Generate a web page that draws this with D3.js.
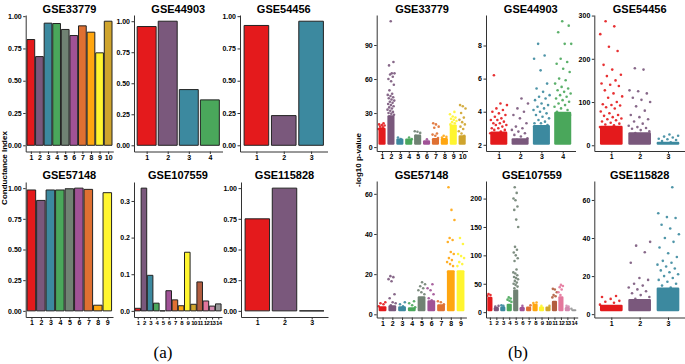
<!DOCTYPE html>
<html>
<head>
<meta charset="utf-8">
<script src="https://cdn.jsdelivr.net/npm/d3@7"></script>
<style>
body { margin: 0; background: #fff; }
svg text { font-family: "Liberation Sans", Arial, sans-serif; }
</style>
</head>
<body>
<svg id="fig" width="685" height="364"></svg>
<script>
/**
 * Data.
 */
var datasets = ["GSE33779", "GSE44903", "GSE54456", "GSE57148", "GSE107559", "GSE115828"];

// (a) conductance index per cluster
var ci33779 = [0.819, 0.687, 0.946, 0.943, 0.897, 0.850, 0.925, 0.876, 0.716, 0.961];
var ci44903 = [0.957, 1.0, 0.449, 0.366];
var ci54456 = [0.928, 0.230, 0.961];
var ci57148 = [0.985, 0.90, 0.985, 0.985, 0.995, 1.0, 0.99, 0.046, 0.963];
var ci107559 = [0.007, 0.335, 0.097, 0.021, 0, 0.055, 0.030, 0.014, 0.160, 0.018, 0.079, 0.027, 0.013, 0.019];
var ci115828 = [0.75, 1.0, 0];

var ciTicks = [0, 0.25, 0.5, 0.75, 1];
var ciTicksSmall = [0, 0.1, 0.2, 0.3];

// (b) -log10 p-value: lowest value, top of the dense band per cluster, scattered points per cluster
var floor33779 = 2;
var dense33779 = [17, 28, 7.5, 7.5, 11, 6, 8, 8, 20, 10.5];
var pts33779 = [
	[16, 17.5, 18, 19, 19.5, 20, 21],
	[27, 28.5, 29.5, 30, 31, 32, 33, 34, 35, 36, 37, 38, 39, 40, 41, 42, 43, 44, 45, 46, 47, 50, 55, 58, 60, 62, 64, 65, 65, 72, 75, 111],
	[7, 8.5],
	[7, 8.5],
	[10, 12.5, 13.5, 14],
	[6.8],
	[8, 10, 11, 12, 17, 18, 20, 21],
	[8.5, 9, 10],
	[18, 20, 21, 22, 23, 24, 25, 26, 27, 29, 31],
	[10, 12, 14, 16, 18, 20, 22, 24, 26, 30, 34, 36, 37]
];

var floor44903 = 2;
var dense44903 = [2.8, 2.4, 3.2, 4.0];
var pts44903 = [
	[2.7, 2.8, 2.9, 2.9, 3.0, 3.0, 3.1, 3.2, 3.2, 3.3, 3.3, 3.4, 3.5, 3.5, 3.6, 3.7, 3.8, 3.9, 4.0, 4.1, 4.2, 4.4, 4.5, 6.2],
	[2.3, 2.4, 2.5, 2.6, 2.7, 2.8, 2.9, 3.0, 3.1, 3.3, 3.6, 3.8, 4.0, 4.2, 4.5, 4.8],
	[3.0, 3.1, 3.2, 3.3, 3.3, 3.4, 3.5, 3.6, 3.7, 3.8, 3.9, 4.0, 4.1, 4.2, 4.3, 4.4, 4.5, 4.7, 4.8, 4.9, 5.0, 5.2, 5.4, 5.7, 6.5, 7.2, 7.4, 8.1],
	[3.8, 3.9, 4.0, 4.1, 4.2, 4.3, 4.4, 4.5, 4.6, 4.7, 4.8, 4.9, 5.0, 5.1, 5.2, 5.3, 5.4, 5.5, 5.7, 5.9, 6.0, 6.4, 6.6, 6.9, 7.0, 7.2, 8.1, 8.1, 8.8, 9.2, 9.47]
];

var floor54456 = 1;
var dense54456 = [45, 30, 8];
var pts54456 = [
	[42, 46, 48, 50, 52, 55, 58, 60, 62, 65, 68, 70, 74, 78, 85, 88, 92, 93, 95, 100, 110, 113, 120, 127, 137, 140, 143, 150, 160, 163, 175, 186, 218, 228, 257, 275, 287],
	[28, 32, 35, 38, 40, 42, 45, 50, 55, 60, 65, 70, 80, 90, 100, 105, 110, 120, 125, 127, 175, 178],
	[7, 10, 12, 14, 15, 18, 20, 22, 25]
];

var floor57148 = 1.5;
var dense57148 = [4, 4.5, 4, 3.5, 9, 7, 5, 22, 22];
var pts57148 = [
	[4, 5, 5.5, 6],
	[4.5, 5.5, 6, 8, 10, 16.5, 17.5, 18.5, 19],
	[4, 5, 6],
	[3.5, 4.5, 5.5, 6.5],
	[8, 10, 11, 12, 13, 14, 15, 16],
	[7, 8, 10, 12, 13, 15],
	[5, 6, 6.5],
	[21, 24, 25, 26, 27, 28, 30, 31, 36, 37, 38, 47, 52, 63.3],
	[21, 24, 25, 26, 28, 29, 30, 35, 38]
];

var floor107559 = 1.5;
var dense107559 = [27, 9, 10, 15, 40, 9, 10, 15, 10, 10, 20, 28, 9, 5];
var pts107559 = [
	[29, 30, 32],
	[10, 11],
	[11, 12],
	[18, 20, 22, 24, 26],
	[42, 45, 48, 50, 52, 55, 58, 60, 62, 65, 68, 70, 75, 90, 95, 100, 105, 110, 115, 150, 163, 180, 186, 197, 200, 210, 220],
	[11],
	[12],
	[16, 17],
	[11],
	[11],
	[26, 28, 30, 35, 40, 41],
	[30, 35, 40, 44, 46, 48],
	[10, 11],
	[6]
];

var floor115828 = 1.5;
var dense115828 = [5, 8, 14];
var pts115828 = [
	[5, 6, 6.5, 7, 8, 9, 9.5],
	[8, 9, 10, 11, 12, 13, 14, 15, 16, 18, 19, 27, 32.5, 36, 38],
	[14, 15, 16, 17, 18, 19, 20, 21, 22, 23, 24, 25, 26, 27, 28, 30, 32, 35, 38, 40, 42, 45, 47, 50.5, 51, 53, 66.7]
];

var pTicks33779 = [0, 30, 60, 90];
var pTicks44903 = [2, 4, 6, 8];
var pTicks54456 = [0, 100, 200, 300];
var pTicks57148 = [0, 20, 40, 60];
var pTicks107559 = [0, 50, 100, 150, 200];
var pTicks115828 = [0, 20, 40, 60];

// colorRampPalette(brewer.pal(9, "Set1"))(14)
var set1 = ["#E41A1C", "#377EB8", "#4DAF4A", "#984EA3", "#FF7F00", "#FFFF33", "#A65628", "#F781BF", "#999999"];
var ramp = d3.piecewise(d3.interpolateRgb, set1);
function clusterColor(i) {
	return ramp(i / 13);
}

var svg = d3.select("#fig");

var barPanels = [
	{ values: ci33779, ticks: ciTicks, fmt: d3.format(".2f"), x0: 25.7, x1: 113.3, y0: 15, y1: 151.5, ty: 12.5 },
	{ values: ci44903, ticks: ciTicks, fmt: d3.format(".2f"), x0: 134, x1: 222.5, y0: 15, y1: 151.5, ty: 12.5 },
	{ values: ci54456, ticks: ciTicks, fmt: d3.format(".2f"), x0: 240, x1: 327.5, y0: 15, y1: 151.5, ty: 12.5 },
	{ values: ci57148, ticks: ciTicks, fmt: d3.format(".2f"), x0: 25.7, x1: 113, y0: 182, y1: 317, ty: 178.5 },
	{ values: ci107559, ticks: ciTicksSmall, fmt: d3.format(".1f"), x0: 134, x1: 222, y0: 182, y1: 317, ty: 178.5 },
	{ values: ci115828, ticks: ciTicks, fmt: d3.format(".2f"), x0: 241, x1: 328, y0: 182, y1: 317, ty: 178.5 }
];

var scatterPanels = [
	{ floor: floor33779, dense: dense33779, pts: pts33779, ticks: pTicks33779, x0: 376.7, x1: 467.5, y0: 15, y1: 151, ty: 12.5 },
	{ floor: floor44903, dense: dense44903, pts: pts44903, ticks: pTicks44903, x0: 486, x1: 575.5, y0: 15, y1: 151, ty: 12.5 },
	{ floor: floor54456, dense: dense54456, pts: pts54456, ticks: pTicks54456, x0: 594.3, x1: 685, y0: 15, y1: 151, ty: 12.5 },
	{ floor: floor57148, dense: dense57148, pts: pts57148, ticks: pTicks57148, x0: 376.7, x1: 466.4, y0: 181, y1: 317.5, ty: 178.5 },
	{ floor: floor107559, dense: dense107559, pts: pts107559, ticks: pTicks107559, x0: 486, x1: 577.7, y0: 181, y1: 317.5, ty: 178.5 },
	{ floor: floor115828, dense: dense115828, pts: pts115828, ticks: pTicks115828, x0: 594.3, x1: 685, y0: 181, y1: 317.5, ty: 178.5 }
];

// ggplot-like 5% expansion
function expand(lo, hi) {
	var pad = (hi - lo) * 0.05;
	return [lo - pad, hi + pad];
}

function drawAxes(g, x, y, n, ticks, fmt) {
	var xa = g.append("g")
		.attr("transform", "translate(0," + y.range()[0] + ")")
		.call(d3.axisBottom(x).tickValues(d3.range(1, n + 1)).tickFormat(d3.format("d"))
			.tickSize(2.5).tickSizeOuter(0).tickPadding(1));
	var ya = g.append("g")
		.attr("transform", "translate(" + x.range()[0] + ",0)")
		.call(d3.axisLeft(y).tickValues(ticks).tickFormat(fmt).tickSize(2.5).tickSizeOuter(0).tickPadding(1.5));
	[xa, ya].forEach(function (a) {
		a.attr("font-family", null).attr("font-size", null);
		a.select(".domain").attr("stroke", "#333").attr("stroke-width", 1);
		a.selectAll(".tick line").attr("stroke", "#333").attr("stroke-width", 1);
		a.selectAll("text")
			.attr("fill", "#000")
			.style("font-size", "7px")
			.style("font-weight", "bold");
	});
	// crowded cluster labels: squeeze them like the original
	if (n > 12) {
		xa.selectAll("text")
			.style("font-size", "6px")
			.style("letter-spacing", "-0.6px");
	}
}

function title(g, p, name) {
	g.append("text")
		.attr("x", (p.x0 + p.x1) / 2)
		.attr("y", p.ty)
		.attr("text-anchor", "middle")
		.style("font-size", "11px")
		.style("font-weight", "bold")
		.text(name);
}

// (a) bar panels
barPanels.forEach(function (p, k) {
	var n = p.values.length;
	var x = d3.scaleLinear().domain([0.4, n + 0.6]).range([p.x0, p.x1]);
	var y = d3.scaleLinear().domain(expand(0, d3.max(p.values))).range([p.y1, p.y0]);
	var g = svg.append("g");

	g.selectAll("path.bar")
		.data(p.values)
		.enter().append("path")
		.attr("class", "bar")
		.attr("d", function (d, i) {
			var l = x(i + 1 - 0.45), r = x(i + 1 + 0.45);
			return "M" + l + "," + y(0) + "V" + y(d) + "H" + r + "V" + y(0) + "Z";
		})
		.attr("fill", function (d, i) { return clusterColor(i); })
		.attr("stroke", "#222")
		.attr("stroke-width", 1);

	drawAxes(g, x, y, n, p.ticks, p.fmt);
	title(g, p, datasets[k]);
});

// (b) manhattan-like strips
scatterPanels.forEach(function (p, k) {
	var n = p.dense.length;
	var hi = d3.max(p.pts.map(function (c, i) { return Math.max(p.dense[i], d3.max(c) || 0); }));
	var x = d3.scaleLinear().domain([0.4, n + 0.6]).range([p.x0, p.x1]);
	var y = d3.scaleLinear().domain(expand(p.floor, hi)).range([p.y1, p.y0]);
	var g = svg.append("g");

	// dense body of each cluster
	g.selectAll("rect.band")
		.data(p.dense)
		.enter().append("rect")
		.attr("class", "band")
		.attr("x", function (d, i) { return x(i + 1 - 0.4); })
		.attr("width", function () { return x(1.4) - x(0.6); })
		.attr("y", function (d) { return y(d); })
		.attr("height", function (d) { return y(p.floor) - y(d); })
		.attr("rx", 1.2)
		.attr("fill", function (d, i) { return clusterColor(i); });

	// scattered points above the body
	p.pts.forEach(function (vals, i) {
		g.selectAll(null)
			.data(vals)
			.enter().append("circle")
			.attr("cx", function (d, j) {
				var off = ((j * 0.618034 + 0.31 * i) % 1 - 0.5) * 0.8;
				return x(i + 1 + off);
			})
			.attr("cy", function (d) { return y(d); })
			.attr("r", 1.3)
			.attr("fill", clusterColor(i))
			.attr("opacity", 0.9);
	});

	drawAxes(g, x, y, n, p.ticks, d3.format("d"));
	title(g, p, datasets[k]);
});

// axis titles
svg.append("text")
	.attr("transform", "translate(4.5,168) rotate(-90)")
	.attr("dominant-baseline", "middle")
	.attr("text-anchor", "middle")
	.style("font-size", "8px")
	.style("font-weight", "bold")
	.text("Conductance Index");

svg.append("text")
	.attr("transform", "translate(359,160) rotate(-90)")
	.attr("dominant-baseline", "middle")
	.attr("text-anchor", "middle")
	.style("font-size", "8px")
	.style("font-weight", "bold")
	.text("-log10 p-value");

// sub-figure labels
[["(a)", 163], ["(b)", 518]].forEach(function (l) {
	svg.append("text")
		.attr("x", l[1])
		.attr("y", 358)
		.attr("text-anchor", "middle")
		.style("font-family", "'Liberation Serif', 'DejaVu Serif', serif")
		.style("font-size", "17px")
		.text(l[0]);
});
</script>
</body>
</html>
